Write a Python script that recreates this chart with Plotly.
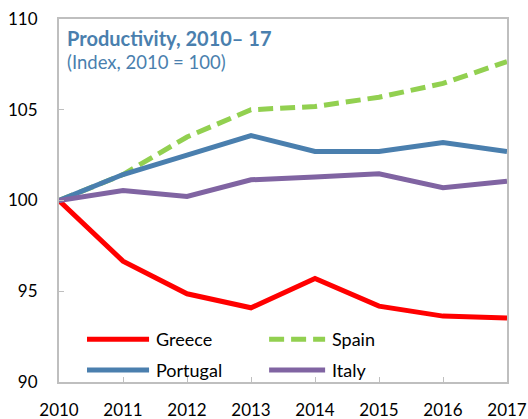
import plotly.graph_objects as go

years = [2010, 2011, 2012, 2013, 2014, 2015, 2016, 2017]
greece = [100, 96.66, 94.86, 94.09, 95.7, 94.18, 93.63, 93.52]
spain = [100, 101.43, 103.5, 105.0, 105.18, 105.69, 106.45, 107.65]
portugal = [100, 101.43, 102.5, 103.58, 102.7, 102.7, 103.2, 102.7]
italy = [100, 100.55, 100.22, 101.14, 101.3, 101.47, 100.7, 101.06]

y_ticks = [90, 95, 100, 105, 110]

FONT = "Lato"
series = [
    ("Greece", greece, "#FF0000", "solid"),
    ("Spain", spain, "#92D050", "15px,7px"),
    ("Portugal", portugal, "#4A7FAE", "solid"),
    ("Italy", italy, "#8064A2", "solid"),
]

fig = go.Figure()
for name, vals, color, dash in series:
    fig.add_trace(go.Scatter(x=years, y=vals, name=name, mode="lines",
                             line=dict(color=color, width=5, dash=dash)))

# manual legend (2 columns x 2 rows), paper coordinates
legend_pos = {
    "Greece": (0.0625, 0.201, 0.118),
    "Spain": (0.469, 0.594, 0.118),
    "Portugal": (0.0625, 0.201, 0.033),
    "Italy": (0.469, 0.594, 0.033),
}
shapes = []
annotations = []
for name, vals, color, dash in series:
    x0, x1, yy = legend_pos[name]
    shapes.append(dict(type="line", xref="paper", yref="paper", x0=x0, x1=x1, y0=yy, y1=yy,
                       line=dict(color=color, width=5, dash=dash)))
    annotations.append(dict(text=name, xref="paper", yref="paper", x=x1 + 0.01, y=yy,
                            xanchor="left", yanchor="middle", showarrow=False,
                            font=dict(family=FONT, size=18, color="#000000")))

annotations += [
    dict(text="<b>Productivity, 2010\u2013 17</b>", xref="paper", yref="paper",
         x=0.013, y=0.948, xanchor="left", yanchor="middle", showarrow=False,
         font=dict(family=FONT, size=20, color="#4A7FAE")),
    dict(text="(Index, 2010 = 100)", xref="paper", yref="paper",
         x=0.013, y=0.882, xanchor="left", yanchor="middle", showarrow=False,
         font=dict(family=FONT, size=18.5, color="#4A7FAE")),
]

fig.update_layout(
    width=528, height=419,
    margin=dict(l=59, r=21, t=19, b=37, autoexpand=False),
    paper_bgcolor="white", plot_bgcolor="white",
    font=dict(family=FONT, size=17, color="#000000"),
    showlegend=False,
    xaxis=dict(range=[2010, 2017], tickvals=years, ticktext=[str(y) for y in years],
               showgrid=False, zeroline=False, showline=True, linecolor="#BFBFBF",
               linewidth=2, mirror=True, ticks="inside", ticklen=5, tickcolor="#BFBFBF",
               tickwidth=1, ticklabelstandoff=12),
    yaxis=dict(range=[90, 110], tickvals=y_ticks, showgrid=False, zeroline=False,
               showline=True, linecolor="#BFBFBF", linewidth=2, mirror=True,
               ticks="inside", ticklen=5, tickcolor="#BFBFBF", tickwidth=1,
               ticklabelstandoff=16),
    shapes=shapes,
    annotations=annotations,
)

fig.write_html("out.html", config={"displayModeBar": False},
               post_script="document.body.style.margin='0';document.body.style.padding='0';")
